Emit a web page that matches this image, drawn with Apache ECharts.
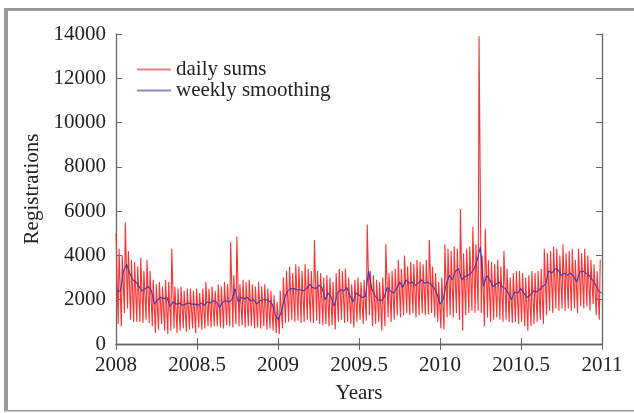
<!DOCTYPE html>
<html>
<head>
<meta charset="utf-8">
<script src="https://cdn.jsdelivr.net/npm/echarts@6/dist/echarts.min.js"></script>
<style>html,body{margin:0;padding:0;background:#fff}#c{width:634px;height:413px}</style>
</head>
<body>
<div id="c"></div>
<script>
// Weekly peak (weekday) values of daily sums, week 0 starts 2008-01-01
var weekHigh = [5000,4300,4000,5500,4200,3800,3700,3500,3900,3300,3800,3300,2900,2700,2800,2600,2900,2800,4300,2600,
2500,2600,2400,2500,2500,2400,2500,2300,2500,2800,2500,2600,2400,2700,2600,2800,2700,4600,3100,4850,
2700,2900,2800,2900,2700,2600,2800,2600,2700,2500,2400,2200,1900,2400,3000,3300,3500,3200,3600,3500,
3300,3600,3400,3300,4700,3300,3200,3000,3100,3000,2800,3200,3400,3300,3400,3000,2700,2900,3000,2800,
2900,5400,3300,3100,2900,2800,3000,4500,3200,3300,3400,3800,3400,4000,3500,3700,3600,3800,3700,3600,
3800,4700,3500,3200,2800,3000,4500,4300,4200,4400,4300,6100,4100,4300,4400,5300,4500,13900,4000,5200,
3800,3700,3600,3800,3500,4200,3400,3000,3200,3300,3300,3200,3000,3100,3300,3200,3300,3400,4300,4100,
4200,4400,4300,4000,4500,4100,4200,4300,3800,4300,4100,4300,4000,3800,3600,3300,3800];
// Weekly trough (weekend) values of daily sums
var weekLow = [900,800,1400,1600,1100,1000,1000,1000,950,1100,950,800,500,650,900,600,450,600,700,500,
600,700,550,650,700,500,750,650,700,800,750,800,800,750,700,850,800,750,900,800,
850,750,800,800,700,750,700,800,650,700,600,500,450,700,950,1000,1100,1000,1050,950,
1000,1100,1000,950,1050,900,850,900,800,850,650,1000,1100,950,1000,900,750,1000,1100,900,
1050,1300,800,900,1000,600,800,1200,1000,1100,1300,1200,1300,1400,1300,1400,1200,1300,1400,1300,
1350,1400,1200,1000,700,650,1200,1300,1200,1400,1100,600,1300,1400,1500,1400,1500,1400,800,1200,
1000,1100,1200,1100,1000,1100,1000,950,1000,900,1000,800,600,800,900,1000,1100,900,1300,1500,
1400,1600,1500,1600,1500,1600,1500,1600,1400,1700,1600,1700,1500,1800,1300,1100,1000];
// Weekly smoothing values
var weekSmooth = [2400,2400,3300,3600,3200,2900,2800,2600,2400,2500,2600,2400,1800,2000,2100,2050,2100,1700,1900,1800,
1850,1750,1800,1850,1800,1800,1750,1850,1750,1900,1850,1950,1900,1650,1900,1950,1900,2000,2500,1900,
2100,2050,2100,1950,2000,1800,1950,2000,2000,1950,1800,1300,1100,1500,2100,2400,2500,2500,2450,2450,
2400,2500,2700,2550,2500,2650,2550,2000,2300,2100,1700,2300,2450,2400,2550,2200,1900,2300,2200,2100,
2150,3300,2500,2200,2000,1950,2100,2550,2400,2300,2500,2800,2550,2900,2750,2800,2650,2750,2900,2750,
2800,2700,2550,2300,1800,2000,2700,3100,2900,3300,3400,2900,3050,3100,3200,3400,3800,4400,2600,3100,
2900,2600,2700,2800,2600,2500,2300,2000,2350,2300,2500,2300,2100,2200,2400,2350,2450,2600,2700,3300,
3200,3400,3350,3100,3200,3100,3200,3050,2800,3250,3300,3200,3100,2900,2700,2400,2300];
var xTicks = [2008, 2008.5, 2009, 2009.5, 2010, 2010.5, 2011];
var yTicks = [0, 2000, 4000, 6000, 8000, 10000, 12000, 14000];

function dayToYear(d) {
  if (d < 366) return 2008 + d / 366;
  if (d < 731) return 2009 + (d - 366) / 365;
  return 2010 + (d - 731) / 365;
}
var daily = [], smooth = [];
for (var w = 0; w < weekHigh.length; w++) {
  daily.push([dayToYear(7 * w), weekHigh[w]]);
  if (7 * w + 5 <= 1096) daily.push([dayToYear(7 * w + 5), weekLow[w]]);
  smooth.push([dayToYear(7 * w + 3), weekSmooth[w]]);
}

var FONT = 'Liberation Serif';
var TXT = '#222';
var AX = '#666';
var FS = 21;
var chart = echarts.init(document.getElementById('c'), null, {renderer: 'canvas'});
chart.setOption({
  animation: false,
  backgroundColor: '#fff',
  graphic: [
    {type: 'rect', shape: {x: 4, y: 8, width: 630, height: 3}, style: {fill: '#9a9a9a'}, silent: true},
    {type: 'rect', shape: {x: 4, y: 8, width: 4, height: 403}, style: {fill: '#9a9a9a'}, silent: true},
    {type: 'rect', shape: {x: 4, y: 410, width: 630, height: 1.5}, style: {fill: '#9a9a9a'}, silent: true}
  ],
  grid: {left: 116, right: 32, top: 34, bottom: 69, containLabel: false},
  legend: {
    orient: 'vertical', left: 137, top: 59, padding: 0, itemWidth: 34, itemHeight: 2, itemGap: 0,
    icon: 'rect',
    textStyle: {fontFamily: FONT, fontSize: FS, color: TXT, lineHeight: 20},
    data: [
      {name: 'daily sums', itemStyle: {color: '#f47c7c'}},
      {name: 'weekly smoothing', itemStyle: {color: '#8a8ac8'}}
    ]
  },
  xAxis: [{
    type: 'value', min: xTicks[0], max: xTicks[xTicks.length - 1], interval: 0.5,
    name: 'Years', nameLocation: 'middle', nameGap: 39,
    nameTextStyle: {fontFamily: FONT, fontSize: FS, color: TXT},
    axisLine: {show: true, lineStyle: {color: AX, width: 1.3}},
    axisTick: {show: true, inside: true, length: 6, lineStyle: {color: AX}},
    axisLabel: {fontFamily: FONT, fontSize: FS, color: TXT, margin: 11, formatter: function (v) { return String(v); }},
    splitLine: {show: false}
  }, {
    type: 'value', position: 'top', min: xTicks[0], max: xTicks[xTicks.length - 1], interval: 0.5,
    axisLine: {show: true, lineStyle: {color: AX, width: 1.3}},
    axisTick: {show: true, inside: true, length: 6, lineStyle: {color: AX}},
    axisLabel: {show: false}, splitLine: {show: false}
  }],
  yAxis: [{
    type: 'value', min: yTicks[0], max: yTicks[yTicks.length - 1], interval: 2000,
    name: 'Registrations', nameLocation: 'middle', nameGap: 67, nameRotate: 90,
    nameTextStyle: {fontFamily: FONT, fontSize: FS, color: TXT},
    axisLine: {show: true, lineStyle: {color: AX, width: 1.3}},
    axisTick: {show: true, inside: true, length: 6, lineStyle: {color: AX}},
    axisLabel: {fontFamily: FONT, fontSize: FS, color: TXT, margin: 10, formatter: function (v) { return String(v); }},
    splitLine: {show: false}
  }, {
    type: 'value', position: 'right', min: yTicks[0], max: yTicks[yTicks.length - 1], interval: 2000,
    axisLine: {show: true, lineStyle: {color: AX, width: 1.3}},
    axisTick: {show: true, inside: true, length: 6, lineStyle: {color: AX}},
    axisLabel: {show: false}, splitLine: {show: false}
  }],
  series: [{
    name: 'daily sums', type: 'line', data: daily, showSymbol: false, symbol: 'none',
    lineStyle: {color: '#ff3030', width: 1.1}, itemStyle: {color: '#f47c7c'}, clip: true
  }, {
    name: 'weekly smoothing', type: 'line', data: smooth, showSymbol: false, symbol: 'none',
    lineStyle: {color: '#3c3ca8', width: 1.1}, itemStyle: {color: '#8a8ac8'}, clip: true
  }]
});
</script>
</body>
</html>
